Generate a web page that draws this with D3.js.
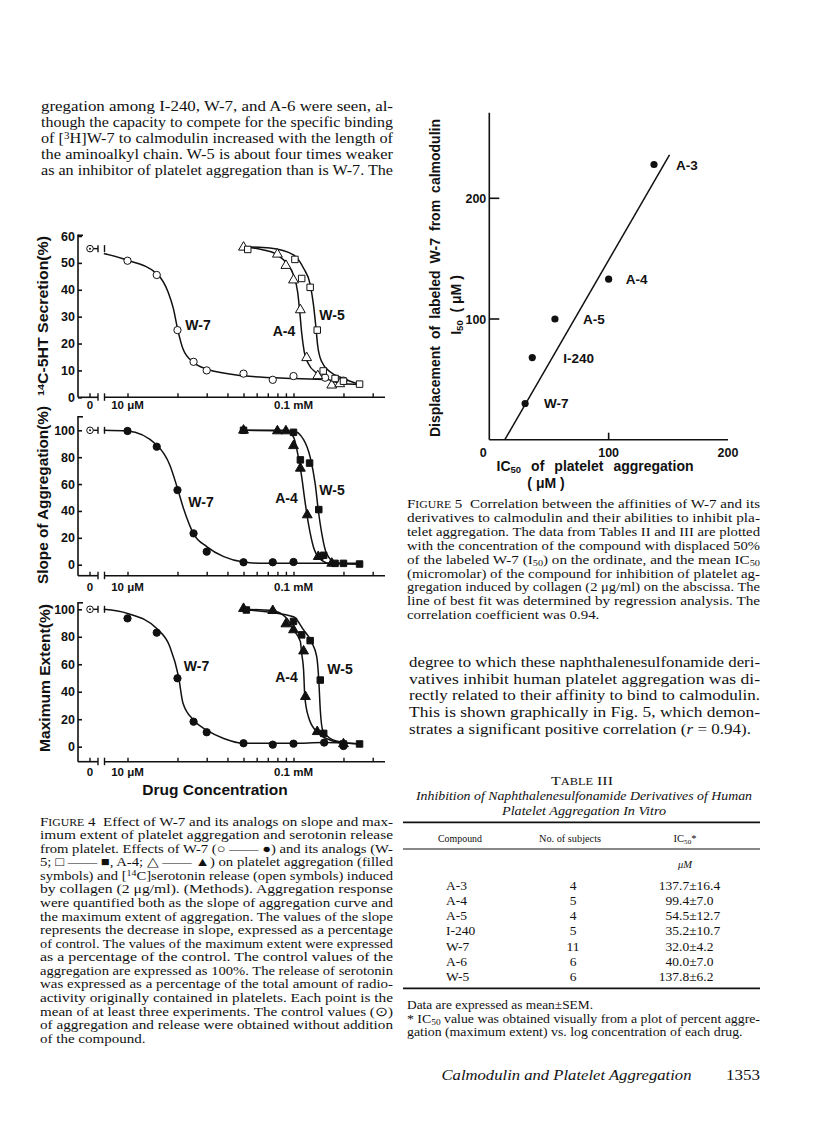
<!DOCTYPE html>
<html>
<head>
<meta charset="utf-8">
<script src="https://cdn.jsdelivr.net/npm/d3@7"></script>
<style>
body { margin: 0; background: #fff; }
svg { display: block; }
</style>
</head>
<body>
<svg id="page" width="816" height="1128"></svg>
<script>
// ---- data ----
// Fig. 4, concentrations in uM, responses in %
var concTicks = [10, 20, 30, 40, 50, 60, 70, 80, 90, 100, 200, 300];
var controls = [55.3, 100, 100];   // secretion, slope, max extent at zero drug

var secW7 = [[10,50.8],[15,45.5],[20,25],[25,13.2],[30,10],[50,8.8],[75,6.5],[100,7.9],[155,7.3],[200,6.2]];
var secA4 = [[50,55.8],[80,53.2],[90,49],[100,43.6],[110,32.5],[120,14.7],[140,8],[170,4.5],[190,5]];
var secW5 = [[53,55],[102,51.3],[112,44.2],[126,40.9],[139,25],[151,9.8],[178,7],[200,6],[250,4.9]];
var secW7Fit = [[7.2,53.5],[10,51],[15,46],[17.6,39],[18.9,33],[20.1,25],[21.6,18],[25,13],[30,10.5],[50,8],[100,7],[150,6.6]];
var secA4Fit = [[50,56],[66,54.8],[80,53],[91,49.8],[100,45.5],[106,39],[109,32],[112,24],[116,17],[123,12.5],[138,9],[166,6.4],[200,5],[250,4.8]];
var secW5Fit = [[50,56],[72,55.5],[100,53],[115,48],[126,42],[132,34.3],[136,27],[140,19],[148,13.2],[166,9.5],[200,7],[250,4.8]];

var slopeW7 = [[10,99.5],[15,87.8],[20,55.5],[25,23.3],[30,9.7],[50,1.8],[75,1.8],[100,2]];
var slopeA4 = [[50,100],[80,99.5],[90,99.5],[100,88.5],[110,71.7],[121,37],[141,6],[170,1]];
var slopeW5 = [[50,100],[100,98.5],[110,78],[125,75.6],[142,41],[152,7],[178,1],[200,1],[250,0.5]];
var slopeW7Fit = [[7.2,100],[10,99.5],[15,89],[18,74],[20,56.8],[21.6,43],[25,23],[30,13.5],[38,6],[50,2],[66,1],[100,1],[250,1]];
var slopeA4Fit = [[50,100],[88,100],[100,95],[107,80],[112,65.5],[117,48],[123,30.5],[132,13],[144,4.5],[166,0.8],[250,0.5]];
var slopeW5Fit = [[50,100],[100,99.5],[115,93],[126,80],[135,60.5],[141,40.7],[148,23.3],[158,8.4],[182,1],[250,0.5]];

var maxW7 = [[10,93.4],[15,83],[20,49.8],[25,18.2],[30,10.5],[50,2.5],[75,1.5],[100,2.2],[153,3],[200,0.5]];
var maxA4 = [[50,100.5],[75,99],[90,89.3],[100,85],[115,69.6],[118,36.4],[139,10.9],[200,2]];
var maxW5 = [[52,99.5],[100,91.2],[112,81.4],[126,77.2],[145,48.5],[152,9.7],[200,2],[250,2]];
var maxW7Fit = [[7.2,100],[10,97],[15,86],[18,72.8],[20.3,51],[21.6,31.6],[25,19.4],[30,12],[38,6],[50,2.5],[100,2.5],[150,3],[250,2]];
var maxA4Fit = [[50,100],[75,99],[91,93.4],[100,85],[110,76.5],[112,68],[115,56],[117,36.4],[123,21.8],[138,10.9],[166,4.9],[200,2.5]];
var maxW5Fit = [[52,99.5],[100,94.6],[115,85],[128,76.5],[138,65.5],[142,48.5],[145,26.7],[150,12],[166,6],[200,3],[250,2]];

// Fig. 5
var compounds = ["W-7", "I-240", "A-5", "A-4", "A-3"];
var ic50 = [30, 36, 55, 100, 138];      // abscissa, uM
var i50 = [30, 68, 100, 133, 228];      // ordinate, uM
var fitLine = [[13, 0], [151, 236]];

// Table III
var tblCompound = ["A-3", "A-4", "A-5", "I-240", "W-7", "A-6", "W-5"];
var tblSubjects = ["4", "5", "4", "5", "11", "6", "6"];
var tblIC50 = ["137.7±16.4", "99.4±7.0", "54.5±12.7", "35.2±10.7", "32.0±4.2", "40.0±7.0", "137.8±6.2"];

// ---- text ----
var topText = [
	"gregation among I-240, W-7, and A-6 were seen, al-",
	"though the capacity to compete for the specific binding",
	"of [<sup>3</sup>H]W-7 to calmodulin increased with the length of",
	"the aminoalkyl chain. W-5 is about four times weaker",
	"as an inhibitor of platelet aggregation than is W-7. The"
];
var fig4Caption = [
	"<sc>Figure</sc> 4  Effect of W-7 and its analogs on slope and max-",
	"imum extent of platelet aggregation and serotonin release",
	"from platelet. Effects of W-7 (○ —— ●) and its analogs (W-",
	"5; □ —— ■, A-4; △ —— ▲) on platelet aggregation (filled",
	"symbols) and [<sup>14</sup>C]serotonin release (open symbols) induced",
	"by collagen (2 μg/ml). (Methods). Aggregation response",
	"were quantified both as the slope of aggregation curve and",
	"the maximum extent of aggregation. The values of the slope",
	"represents the decrease in slope, expressed as a percentage",
	"of control. The values of the maximum extent were expressed",
	"as a percentage of the control. The control values of the",
	"aggregation are expressed as 100%. The release of serotonin",
	"was expressed as a percentage of the total amount of radio-",
	"activity originally contained in platelets. Each point is the",
	"mean of at least three experiments. The control values (⊙)",
	"of aggregation and release were obtained without addition",
	"of the compound."
];
var fig5Caption = [
	"<sc>Figure</sc> 5  Correlation between the affinities of W-7 and its",
	"derivatives to calmodulin and their abilities to inhibit pla-",
	"telet aggregation. The data from Tables II and III are plotted",
	"with the concentration of the compound with displaced 50%",
	"of the labeled W-7 (I<sub>50</sub>) on the ordinate, and the mean IC<sub>50</sub>",
	"(micromolar) of the compound for inhibition of platelet ag-",
	"gregation induced by collagen (2 μg/ml) on the abscissa. The",
	"line of best fit was determined by regression analysis. The",
	"correlation coefficient was 0.94."
];
var rightText = [
	"degree to which these naphthalenesulfonamide deri-",
	"vatives inhibit human platelet aggregation was di-",
	"rectly related to their affinity to bind to calmodulin.",
	"This is shown graphically in Fig. 5, which demon-",
	"strates a significant positive correlation (<i>r</i> = 0.94)."
];

var serif = "'Liberation Serif', 'Times New Roman', serif";
var sans = "'Liberation Sans', Arial, sans-serif";
var svg = d3.select("#page");
svg.append("rect").attr("width", 816).attr("height", 1128).attr("fill", "#fff");

// write a line with <i>, <sc>, <sub>, <sup> markup into a text element
function addSegments(t, s) {
	var re = /<(i|sc|sub|sup)>(.*?)<\/\1>/g, last = 0, m;
	while ((m = re.exec(s)) !== null) {
		if (m.index > last) t.append("tspan").text(s.slice(last, m.index));
		if (m[1] == "i") t.append("tspan").attr("font-style", "italic").text(m[2]);
		else if (m[1] == "sub") t.append("tspan").attr("font-size", "0.68em").attr("baseline-shift", "-0.25em").text(m[2]);
		else if (m[1] == "sup") t.append("tspan").attr("font-size", "0.68em").attr("baseline-shift", "0.45em").text(m[2]);
		else {
			t.append("tspan").text(m[2][0].toUpperCase());
			t.append("tspan").attr("font-size", "0.78em").text(m[2].slice(1).toUpperCase());
		}
		last = re.lastIndex;
	}
	if (last < s.length) t.append("tspan").text(s.slice(last));
	return t;
}

// justified lines: the scan's type is wider than Liberation Serif, so the
// glyphs get stretched to the column; an unjustified last line keeps the mean stretch
function para(lines, x, w, y0, lh, size, justifyLast) {
	var nodes = [], factors = [];
	lines.forEach(function(ln, i) {
		var t = svg.append("text")
			.attr("x", x).attr("y", y0 + i * lh)
			.attr("font-family", serif).attr("font-size", size)
			.attr("fill", "#111")
			.style("white-space", "pre");
		addSegments(t, ln);
		var nat = t.node().getComputedTextLength();
		nodes.push([t, nat]);
		if (i < lines.length - 1 || justifyLast) factors.push(w / nat);
	});
	var mean = Math.min(d3.mean(factors), 1.2);
	nodes.forEach(function(n, i) {
		var len = (i < lines.length - 1 || justifyLast) ? w : n[1] * mean;
		n[0].attr("textLength", len).attr("lengthAdjust", "spacingAndGlyphs");
	});
}

para(topText, 41, 352, 110.5, 16.2, 14.2, true);
para(fig4Caption, 40, 353, 825.5, 13.58, 12.6, false);
para(fig5Caption, 407, 353, 508, 13.9, 12.6, false);
para(rightText, 409, 351, 667, 16.65, 14.2, false);

// ---- Figure 4 ----
var x = d3.scaleLog().domain([10, 100]).range([127.5, 293.5]);
var xZero = 90, brk1 = 98, brk2 = 104.5, axisLeft = 78, axisRight = 385;

var panels = [
	{title: "<sup>14</sup>C-5HT Secretion(%)", tMid: 316, tLen: 160, tx: 48,
	 dom: [0, 60], rng: [397.3, 236], ticks: [0,10,20,30,40,50,60], axisY: 397.3, axisTop: 234.5,
	 filled: false, ctrl: controls[0], labY: 409,
	 series: [
		{pts: secW7, fit: secW7Fit, sym: d3.symbolCircle, label: "W-7", lx: 198, ly: 330},
		{pts: secA4, fit: secA4Fit, sym: d3.symbolTriangle, label: "A-4", lx: 284, ly: 336},
		{pts: secW5, fit: secW5Fit, sym: d3.symbolSquare, label: "W-5", lx: 332, ly: 320}]},
	{title: "Slope of Aggregation(%)", tMid: 495, tLen: 178, tx: 48,
	 dom: [0, 100], rng: [564.7, 430.3], ticks: [0,20,40,60,80,100], axisY: 575.7, axisTop: 416,
	 filled: true, ctrl: controls[1], labY: 591,
	 series: [
		{pts: slopeW7, fit: slopeW7Fit, sym: d3.symbolCircle, label: "W-7", lx: 201, ly: 506.5},
		{pts: slopeA4, fit: slopeA4Fit, sym: d3.symbolTriangle, label: "A-4", lx: 286.5, ly: 502.5},
		{pts: slopeW5, fit: slopeW5Fit, sym: d3.symbolSquare, label: "W-5", lx: 332, ly: 495}]},
	{title: "Maximum Extent(%)", tMid: 678, tLen: 148, tx: 50,
	 dom: [0, 100], rng: [746.7, 609.3], ticks: [0,20,40,60,80,100], axisY: 761.7, axisTop: 602,
	 filled: true, ctrl: controls[2], labY: 776,
	 series: [
		{pts: maxW7, fit: maxW7Fit, sym: d3.symbolCircle, label: "W-7", lx: 196.5, ly: 671},
		{pts: maxA4, fit: maxA4Fit, sym: d3.symbolTriangle, label: "A-4", lx: 286.5, ly: 681.5},
		{pts: maxW5, fit: maxW5Fit, sym: d3.symbolSquare, label: "W-5", lx: 340, ly: 674}]}
];

var symSize = {};
symSize[d3.symbolCircle] = 36;
symSize[d3.symbolTriangle] = 40;
symSize[d3.symbolSquare] = 42;

panels.forEach(function(p) {
	var y = d3.scaleLinear().domain(p.dom).range(p.rng);
	var g = svg.append("g").attr("stroke", "#111").attr("fill", "none");

	// y axis
	g.append("line").attr("x1", axisLeft).attr("x2", axisLeft)
		.attr("y1", p.axisTop).attr("y2", p.axisY).attr("stroke-width", 1.6);
	g.append("line").attr("x1", axisLeft).attr("x2", axisLeft + 5)
		.attr("y1", p.axisTop + 0.8).attr("y2", p.axisTop + 0.8).attr("stroke-width", 1.6);
	var ya = svg.append("g").attr("transform", "translate(" + axisLeft + ",0)")
		.call(d3.axisLeft(y).tickValues(p.ticks).tickSizeInner(-4).tickSizeOuter(0).tickPadding(3));
	ya.select(".domain").remove();
	ya.selectAll("line").attr("stroke", "#111").attr("stroke-width", 1.6);
	ya.selectAll("text").attr("font-family", sans).attr("font-weight", "bold")
		.attr("font-size", 12.5).attr("fill", "#111");

	// x axis with break
	g.append("line").attr("x1", axisLeft).attr("x2", brk1).attr("y1", p.axisY).attr("y2", p.axisY).attr("stroke-width", 1.6);
	g.append("line").attr("x1", brk2).attr("x2", axisRight).attr("y1", p.axisY).attr("y2", p.axisY).attr("stroke-width", 1.6);
	[brk1, brk2].forEach(function(bx) {
		g.append("line").attr("x1", bx).attr("x2", bx).attr("y1", p.axisY - 4).attr("y2", p.axisY + 3.5).attr("stroke-width", 1.4);
	});
	g.append("line").attr("x1", xZero).attr("x2", xZero).attr("y1", p.axisY).attr("y2", p.axisY - 4).attr("stroke-width", 1.4);
	var xa = svg.append("g").attr("transform", "translate(0," + p.axisY + ")")
		.call(d3.axisBottom(x).tickValues(concTicks).tickSizeInner(-4).tickSizeOuter(0).tickFormat(""));
	xa.select(".domain").remove();
	xa.selectAll("line").attr("stroke", "#111").attr("stroke-width", 1.4);

	[["0", xZero], ["10 μM", x(10)], ["0.1 mM", x(100)]].forEach(function(l) {
		svg.append("text").attr("x", l[1]).attr("y", p.labY).attr("text-anchor", "middle")
			.attr("font-family", sans).attr("font-weight", "bold").attr("font-size", 11.5)
			.attr("fill", "#111").text(l[0]);
	});

	// y title
	addSegments(svg.append("text")
		.attr("transform", "translate(" + p.tx + "," + p.tMid + ") rotate(-90)")
		.attr("text-anchor", "middle").attr("font-family", sans).attr("font-weight", "bold")
		.attr("font-size", 14).attr("fill", "#111"), p.title)
		.attr("textLength", p.tLen).attr("lengthAdjust", "spacingAndGlyphs");

	// control point and broken line
	var cy = y(p.ctrl);
	g.append("line").attr("x1", xZero + 3).attr("x2", brk1).attr("y1", cy).attr("y2", cy).attr("stroke-width", 1.4);
	[brk1, brk2].forEach(function(bx) {
		g.append("line").attr("x1", bx).attr("x2", bx).attr("y1", cy - 3.5).attr("y2", cy + 3.5).attr("stroke-width", 1.4);
	});
	g.append("circle").attr("cx", xZero).attr("cy", cy).attr("r", 3.3).attr("fill", "#fff").attr("stroke-width", 1);
	g.append("circle").attr("cx", xZero).attr("cy", cy).attr("r", 1).attr("fill", "#111").attr("stroke", "none");

	var line = d3.line().x(function(d) { return x(d[0]); }).y(function(d) { return y(d[1]); })
		.curve(d3.curveMonotoneX);

	p.series.forEach(function(s) {
		g.append("path").attr("d", line(s.fit)).attr("stroke-width", 1.5);
	});
	p.series.forEach(function(s) {
		g.selectAll(null).data(s.pts).enter().append("path")
			.attr("d", d3.symbol().type(s.sym).size(symSize[s.sym]))
			.attr("transform", function(d) { return "translate(" + x(d[0]) + "," + y(d[1]) + ")"; })
			.attr("fill", p.filled ? "#111" : "#fff")
			.attr("stroke-width", 1);
		svg.append("text").attr("x", s.lx).attr("y", s.ly).attr("text-anchor", "middle")
			.attr("font-family", sans).attr("font-weight", "bold").attr("font-size", 14)
			.attr("fill", "#111").text(s.label);
	});
});

svg.append("text").attr("x", 215).attr("y", 795).attr("text-anchor", "middle")
	.attr("font-family", sans).attr("font-weight", "bold").attr("font-size", 15.5)
	.attr("fill", "#111").text("Drug Concentration");

// ---- Figure 5 ----
// spread words (not letters) so a bold label covers the width seen in the scan
function spreadWords(t, len) {
	var nat = t.node().getComputedTextLength();
	var n = (t.text().match(/ /g) || []).length;
	if (n && len > nat) t.style("word-spacing", ((len - nat) / n) + "px");
	return t;
}
function boldText(s, size) {
	return addSegments(svg.append("text").attr("font-family", sans).attr("font-weight", "bold")
		.attr("font-size", size).attr("fill", "#111").style("white-space", "pre"), s);
}
var fx = d3.scaleLinear().domain([0, 200]).range([489.3, 728]);
var fy = d3.scaleLinear().domain([0, 200]).range([439.7, 198.3]);
var f5 = svg.append("g").attr("stroke", "#111").attr("fill", "none").attr("stroke-width", 1.6);
f5.append("line").attr("x1", fx(0)).attr("x2", fx(0)).attr("y1", 112.7).attr("y2", fy(0));
f5.append("line").attr("x1", fx(0)).attr("x2", fx(200)).attr("y1", fy(0)).attr("y2", fy(0));
[100, 200].forEach(function(v) {
	f5.append("line").attr("x1", fx(0)).attr("x2", fx(0) + 10).attr("y1", fy(v)).attr("y2", fy(v));
	boldText(String(v), 12.5).attr("x", fx(0) - 3).attr("y", fy(v) + 4.5).attr("text-anchor", "end");
});
f5.append("line").attr("x1", fx(100)).attr("x2", fx(100)).attr("y1", fy(0)).attr("y2", fy(0) - 7);
[[0, -6], [100, 0], [200, 0]].forEach(function(t) {
	boldText(String(t[0]), 12.5).attr("x", fx(t[0]) + t[1]).attr("y", 457).attr("text-anchor", "middle");
});
f5.append("line")
	.attr("x1", fx(fitLine[0][0])).attr("y1", fy(fitLine[0][1]))
	.attr("x2", fx(fitLine[1][0])).attr("y2", fy(fitLine[1][1]))
	.attr("stroke-width", 1.5);
var labelDx = {"W-7": 19, "I-240": 31, "A-5": 28, "A-4": 17, "A-3": 22};
compounds.forEach(function(c, i) {
	svg.append("circle").attr("cx", fx(ic50[i])).attr("cy", fy(i50[i])).attr("r", 3.6).attr("fill", "#111");
	boldText(c, 13.5).attr("x", fx(ic50[i]) + labelDx[c]).attr("y", fy(i50[i]) + 5);
});
spreadWords(boldText("Displacement of labeled W-7 from calmodulin", 14)
	.attr("transform", "translate(440,278) rotate(-90)").attr("text-anchor", "middle"), 318);
boldText("I<sub>50</sub>  ( μM )", 14)
	.attr("transform", "translate(461,305) rotate(-90)").attr("text-anchor", "middle");
spreadWords(boldText("IC<sub>50</sub> of platelet aggregation", 14)
	.attr("x", 595).attr("y", 471).attr("text-anchor", "middle"), 197);
boldText("( μM )", 14).attr("x", 546).attr("y", 488).attr("text-anchor", "middle");

// ---- Table III ----
function txt(xp, yp, s, opt) {
	opt = opt || {};
	var t = svg.append("text").attr("x", xp).attr("y", yp)
		.attr("font-family", serif).attr("font-size", opt.size || 13)
		.attr("text-anchor", opt.anchor || "start").attr("fill", "#111")
		.style("white-space", "pre");
	if (opt.italic) t.attr("font-style", "italic");
	addSegments(t, s);
	if (opt.len) t.attr("textLength", opt.len).attr("lengthAdjust", "spacingAndGlyphs");
	return t;
}
txt(582, 784.5, "<sc>Table</sc> III", {anchor: "middle", size: 13.5, len: 62});
txt(584, 800, "Inhibition of Naphthalenesulfonamide Derivatives of Human", {anchor: "middle", italic: true, size: 13.2, len: 336});
txt(584, 815, "Platelet Aggregation In Vitro", {anchor: "middle", italic: true, size: 13.2, len: 164});
var rules = svg.append("g").attr("stroke", "#111");
rules.append("line").attr("x1", 403).attr("x2", 760).attr("y1", 822.3).attr("y2", 822.3).attr("stroke-width", 1.8);
rules.append("line").attr("x1", 403).attr("x2", 760).attr("y1", 849).attr("y2", 849).attr("stroke-width", 1);
rules.append("line").attr("x1", 403).attr("x2", 760).attr("y1", 988.3).attr("y2", 988.3).attr("stroke-width", 1.8);
txt(460, 841.5, "Compound", {anchor: "middle", size: 10.5, len: 44});
txt(570, 841.5, "No. of subjects", {anchor: "middle", size: 10.5, len: 62});
txt(685, 841.5, "IC<sub>50</sub>*", {anchor: "middle", size: 10.5});
txt(685, 868, "μM", {anchor: "middle", size: 10.5, italic: true});
tblCompound.forEach(function(c, i) {
	var yy = 889.5 + i * 15.3;
	txt(446, yy, c, {size: 13.5});
	txt(573, yy, tblSubjects[i], {anchor: "middle", size: 13.5});
	var v = tblIC50[i], dot = v.indexOf(".");
	txt(679, yy, v.slice(0, dot), {anchor: "end", size: 13.5});
	txt(679, yy, v.slice(dot), {size: 13.5});
});
txt(407, 1009, "Data are expressed as mean±SEM.", {size: 12.2, len: 186});
para(["* IC<sub>50</sub> value was obtained visually from a plot of percent aggre-",
	"gation (maximum extent) vs. log concentration of each drug."], 407, 353, 1022.5, 13.4, 12.2, false);

// footer
txt(441.5, 1079.5, "Calmodulin and Platelet Aggregation", {italic: true, size: 14.3, len: 250});
txt(760, 1079.5, "1353", {anchor: "end", size: 14.3, len: 34});
</script>
</body>
</html>
